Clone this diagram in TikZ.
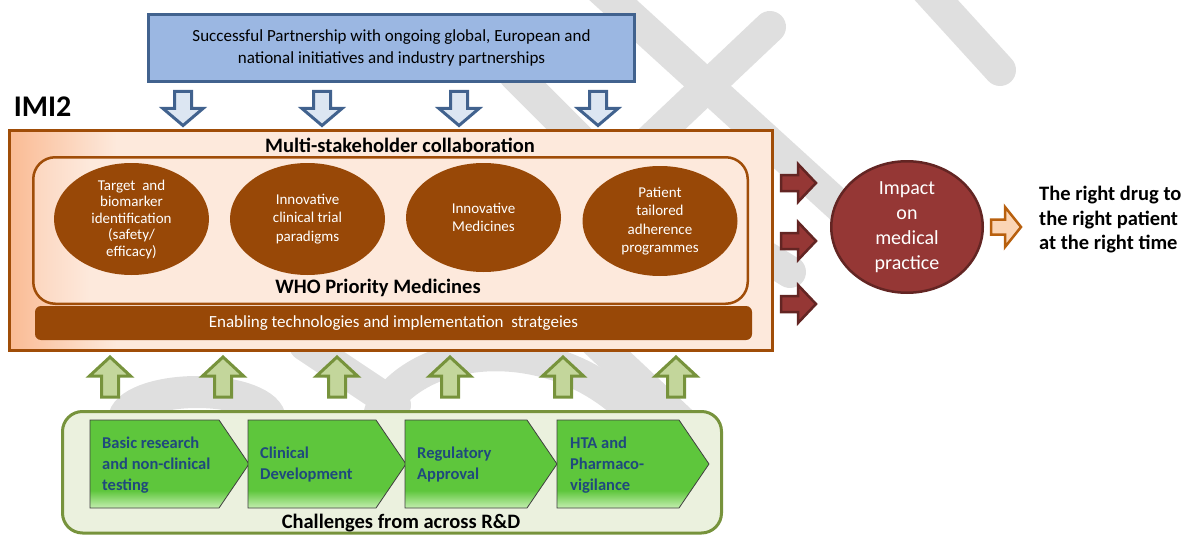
\documentclass[tikz,border=0pt]{standalone}
\usepackage{fontspec}
\setmainfont{Carlito}
\usetikzlibrary{shapes.geometric}
\definecolor{wmgray}{HTML}{DFDFDF}
\definecolor{boxblue}{HTML}{41628E}
\definecolor{lightblue}{HTML}{9BB7E2}
\definecolor{arrblue}{HTML}{DCE6F2}
\definecolor{imibrown}{HTML}{A04D08}
\definecolor{imileft}{HTML}{FABB94}
\definecolor{innerleft}{HTML}{FCD6BF}
\definecolor{imiright}{HTML}{FDE9DC}
\definecolor{ellbrown}{HTML}{984807}
\definecolor{darkred}{HTML}{953735}
\definecolor{darkredline}{HTML}{632523}
\definecolor{orfill}{HTML}{FBD5B5}
\definecolor{orline}{HTML}{B8600E}
\definecolor{olfill}{HTML}{C3D69B}
\definecolor{olline}{HTML}{77933C}
\definecolor{olbg}{HTML}{EBF1DE}
\definecolor{chevgreen}{HTML}{5EC63C}
\definecolor{chevlight}{HTML}{C4EEB0}
\definecolor{chevtext}{HTML}{1F497D}
\pgfdeclarehorizontalshading{imishade}{100bp}{color(0bp)=(imileft); color(25bp)=(imileft); color(32bp)=(imiright); color(100bp)=(imiright)}
\pgfdeclarehorizontalshading{innershade}{100bp}{color(0bp)=(innerleft); color(25bp)=(innerleft); color(29bp)=(imiright); color(100bp)=(imiright)}
\pgfdeclareverticalshading{chevshade}{100bp}{color(0bp)=(chevlight); color(25bp)=(chevlight); color(35bp)=(chevgreen); color(100bp)=(chevgreen)}
\begin{document}
\begin{tikzpicture}[x=1pt,y=-1pt,
  wm/.style={draw=wmgray, line width=32pt, line cap=round},
  topbox/.style={draw=boxblue, fill=lightblue, line width=3pt, minimum width=486pt, minimum height=67pt, inner sep=0pt, align=center, font=\fontsize{17}{22}\selectfont},
  imibox/.style={draw=imibrown, line width=3pt, shade, shading=imishade, minimum width=763pt, minimum height=220pt, inner sep=0pt},
  innerbox/.style={draw=imibrown, line width=2.5pt, shade, shading=innershade, rounded corners=22pt, minimum width=714.5pt, minimum height=146.5pt, inner sep=0pt},
  heading/.style={inner sep=0pt, font=\bfseries\fontsize{20.5}{24}\selectfont},
  ell/.style={ellipse, fill=ellbrown, text=white, inner sep=0pt, align=center, minimum width=155pt, minimum height=112pt},
  enab/.style={fill=ellbrown, text=white, rounded corners=6pt, minimum width=717pt, minimum height=34pt, inner sep=0pt, font=\fontsize{17}{20}\selectfont},
  impact/.style={ellipse, fill=darkred, draw=darkredline, line width=2.5pt, text=white, align=center, minimum width=151.5pt, minimum height=131.5pt, inner sep=0pt, font=\fontsize{20}{25}\selectfont},
  rdbox/.style={draw=olline, fill=olbg, line width=3pt, rounded corners=20pt, minimum width=659pt, minimum height=121.5pt, inner sep=0pt},
  chev/.style={shading=chevshade, draw=black!75, line width=0.8pt},
  chevtxt/.style={anchor=west, inner sep=0pt, align=left, text=chevtext, font=\bfseries\fontsize{16.5}{21}\selectfont},
  darrow/.pic={\filldraw[fill=arrblue, draw=boxblue, line width=3pt] (-8.5,0) -- (8.5,0) -- (8.5,17) -- (20,17) -- (0,34) -- (-20,17) -- (-8.5,17) -- cycle;},
  uarrow/.pic={\filldraw[fill=olfill, draw=olline, line width=3pt] (0,0) -- (20.5,19) -- (8.5,19) -- (8.5,40) -- (-8.5,40) -- (-8.5,19) -- (-20.5,19) -- cycle;},
  rarrow/.pic={\filldraw[fill=darkred, draw=darkredline, line width=2.5pt] (0,-8) -- (17,-8) -- (17,-19) -- (35,0) -- (17,19) -- (17,8) -- (0,8) -- cycle;},
  oarrow/.pic={\filldraw[fill=orfill, draw=orline, line width=2.5pt] (0,-7.5) -- (14,-7.5) -- (14,-20) -- (30,0) -- (14,20) -- (14,7.5) -- (0,7.5) -- cycle;}
]
\useasboundingbox (0,0) rectangle (1195,535);
\clip (0,0) rectangle (1195,535);
% watermark
\draw[wm] (591,-20) -- (871,235);
\draw[wm] (770,27) -- (640,150);
\draw[wm] (918,-20) -- (1000,70);
\draw[wm] (515,75) -- (620,180);
\draw[wm] (730,235) -- (790,272);
\draw[wm] (124,420) arc[start angle=180, end angle=360, x radius=73, y radius=28];
\draw[wm] (305,345) -- (395,405);
\draw[wm] (380,412) .. controls (420,340) and (560,330) .. (640,420);
\draw[wm] (592,338) -- (690,430);
% top box
\node[topbox] (partner) at (391.5,48) {Successful Partnership with ongoing global, European and\\national initiatives and industry partnerships};
\foreach \x in {183,322,459,598} \pic at (\x,91.5) {darrow};
\node[inner sep=0pt, font=\bfseries\fontsize{30}{30}\selectfont] (imi2) at (42.5,107) {IMI2};
% IMI box
\node[imibox] (imi) at (391,240.5) {};
\node[innerbox] (who) at (390.5,230.5) {};
\node[heading] (multi) at (400,145) {Multi-stakeholder collaboration};
\node[ell, font=\fontsize{15}{16.5}\selectfont] (e1) at (131.5,219) {Target\ \ and\\biomarker\\identification\\(safety/\\efficacy)};
\node[ell, font=\fontsize{15}{18.3}\selectfont] (e2) at (307.5,219) {Innovative\\clinical trial\\paradigms};
\node[ell, font=\fontsize{15}{18}\selectfont, minimum height=109pt] (e3) at (483.5,217.5) {Innovative\\Medicines};
\node[ell, font=\fontsize{15}{18.5}\selectfont, minimum height=110pt] (e4) at (660,221) {Patient\\tailored\\adherence\\programmes};
\node[heading] (whotxt) at (378,288) {WHO Priority Medicines};
\node[enab] (enabling) at (393.5,323) {Enabling technologies and implementation\ \ stratgeies};
% right side
\foreach \y in {183,241,304} \pic at (781,\y) {rarrow};
\node[impact] (impactnode) at (907,227) {Impact\\on\\medical\\practice};
\pic at (991,227) {oarrow};
\node[anchor=west, inner sep=0pt, align=left, font=\bfseries\fontsize{20.5}{24.5}\selectfont] (right) at (1039,220) {The right drug to\\the right patient\\at the right time};
% bottom
\foreach \x in {110,223,337,450,563,676} \pic at (\x,357) {uarrow};
\node[rdbox] (rd) at (392,472.25) {};
\shadedraw[chev] (90,420) -- (219,420) -- (249,464) -- (219,508) -- (90,508) -- cycle;
\shadedraw[chev] (248,420) -- (376,420) -- (406,464) -- (376,508) -- (248,508) -- cycle;
\shadedraw[chev] (405,420) -- (527,420) -- (557,464) -- (527,508) -- (405,508) -- cycle;
\shadedraw[chev] (557,420) -- (679,420) -- (709,464) -- (679,508) -- (557,508) -- cycle;
\node[chevtxt] (c1) at (102,465) {Basic research\\and non-clinical\\testing};
\node[chevtxt] (c2) at (260,465) {Clinical\\Development};
\node[chevtxt] (c3) at (417,465) {Regulatory\\Approval};
\node[chevtxt] (c4) at (570,465) {HTA and\\Pharmaco-\\vigilance};
\node[heading] (challenges) at (401,523) {Challenges from across R\&D};
\end{tikzpicture}
\end{document}
